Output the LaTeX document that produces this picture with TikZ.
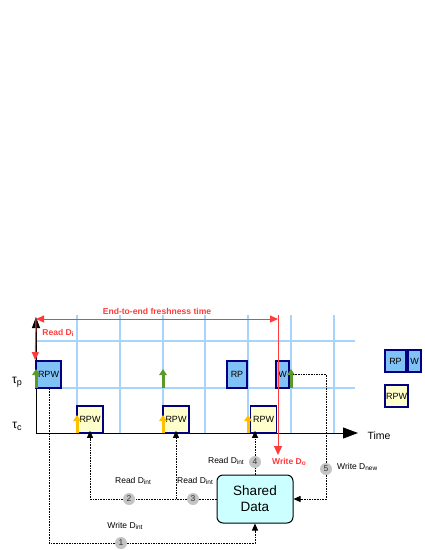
\documentclass[tikz,border=0pt]{standalone}
\usepackage{fontspec}
\setmainfont{Liberation Sans}
\usetikzlibrary{arrows.meta}
\definecolor{gridblue}{HTML}{A6D4FA}
\definecolor{boxblue}{HTML}{80C2F5}
\definecolor{navy}{HTML}{000080}
\definecolor{pale}{HTML}{FFFFCC}
\definecolor{cyanfill}{HTML}{CCFFFF}
\definecolor{redl}{HTML}{FF3B3B}
\definecolor{greenar}{HTML}{5A9A2A}
\definecolor{yellowar}{HTML}{FFC000}
\definecolor{circgray}{HTML}{C4C4C4}
\newcommand\sbs[1]{\raisebox{-0.25ex}{\fontsize{6.5}{6.5}\selectfont #1}}
\newcommand\tsb[1]{\raisebox{-0.3ex}{\fontsize{9}{9}\selectfont #1}}
\tikzset{
  gridline/.style={gridblue, line width=1.2pt},
  taskbox/.style={draw=navy, line width=1.6pt, inner sep=0pt, font=\fontsize{9}{9}\selectfont},
  bluebox/.style={taskbox, fill=boxblue},
  yelbox/.style={taskbox, fill=pale},
  conn/.style={black, line width=0.8pt, dash pattern=on 1.6pt off 1pt},
  connarr/.style={conn, -{Triangle[width=6pt,length=7pt]}},
  numc/.style={circle, fill=circgray, minimum size=12pt, inner sep=0pt, text=black!80, font=\fontsize{8.5}{8.5}\selectfont},
  lbl/.style={font=\fontsize{8.5}{8.5}\selectfont, inner sep=0pt},
  redlbl/.style={text=redl, font=\bfseries\fontsize{8.5}{8.5}\selectfont, inner sep=0pt},
  greenarrow/.style={greenar, line width=3pt, -{Triangle[width=7.5pt,length=6pt]}},
  yelarrow/.style={yellowar, line width=3pt, -{Triangle[width=7.5pt,length=6pt]}},
  redarrow/.style={redl, line width=1pt},
}
\begin{document}
\begin{tikzpicture}[x=1pt,y=-1pt]
\useasboundingbox (0,0) rectangle (425,550);
% grid
\foreach \gx in {77,120,163,205,248,291,334}
  \draw[gridline] (\gx,315) -- (\gx,433);
\draw[gridline] (36,341) -- (355,341);
\draw[gridline] (36,388) -- (355,388);
% axes
\coordinate (origin) at (36,433);
\coordinate (ytop) at (36,317);
\coordinate (xend) at (358,433);
\draw[black, line width=0.9pt, -{Triangle[width=8pt,length=11pt]}] (origin) -- (ytop);
\draw[black, line width=0.9pt, -{Triangle[width=11pt,length=15pt]}] (origin) -- (xend);
\node[font=\fontsize{10.5}{10.5}\selectfont, anchor=west] (time) at (364,436) {Time};
\node[font=\fontsize{12}{12}\selectfont] (taup) at (17,382) {τ\tsb{p}};
\node[font=\fontsize{12}{12}\selectfont] (tauc) at (17,426) {τ\tsb{c}};
% red freshness span
\coordinate (fL) at (36,319);
\coordinate (fR) at (278,319);
\coordinate (rtop) at (278,315);
\coordinate (rbot) at (278,455);
\draw[redarrow, {Triangle[width=7pt,length=8pt]}-{Triangle[width=7pt,length=8pt]}] (fL) -- (fR);
\node[text=redl, font=\bfseries\fontsize{8.6}{8.6}\selectfont] (e2e) at (157,311) {End-to-end freshness time};
% boxes
\node[bluebox, minimum width=25pt, minimum height=27pt] (p1) at (48.5,374.5) {RPW};
\node[bluebox, minimum width=20pt, minimum height=27pt] (rp) at (237,374.5) {RP};
\node[bluebox, minimum width=13pt, minimum height=27pt] (w) at (282.5,374.5) {W};
\node[yelbox, minimum width=26pt, minimum height=27pt] (c1) at (90,419.5) {RPW};
\node[yelbox, minimum width=26pt, minimum height=27pt] (c2) at (176,419.5) {RPW};
\node[yelbox, minimum width=26pt, minimum height=27pt] (c3) at (263.5,419.5) {RPW};
% legend
\node[bluebox, minimum width=21pt, minimum height=22pt] (lrp) at (395.5,361) {RP};
\node[bluebox, minimum width=13pt, minimum height=22pt] (lw) at (414.5,361) {W};
\node[yelbox, minimum width=23pt, minimum height=22pt] (lrpw) at (396.5,396) {RPW};
% red arrows
\draw[redarrow, -{Triangle[width=7pt,length=8pt]}] (fL) -- (p1.north west);
\draw[redarrow, -{Triangle[width=8pt,length=9pt]}] (rtop) -- (rbot);
\node[redlbl] (readdi) at (58,333) {Read D\sbs{i}};
\node[redlbl, anchor=west] (writedo) at (272,462) {Write D\sbs{o}};
% green arrows
\draw[greenarrow] (36,388) -- (36,369);
\draw[greenarrow] (163,388) -- (163,369);
\draw[greenarrow] (291,388) -- (291,369);
% yellow arrows
\draw[yelarrow] (77,433) -- (77,415);
\draw[yelarrow] (163,433) -- (163,415);
\draw[yelarrow] (248,433) -- (248,415);
% shared data
\node[draw=black, line width=1pt, fill=cyanfill, rounded corners=6pt, minimum width=76pt, minimum height=48pt, align=center, font=\fontsize{13.5}{16}\selectfont] (shared) at (255,499) {Shared\\Data};
% circles
\node[numc] (n1) at (121,543) {1};
\node[numc] (n2) at (129,499) {2};
\node[numc] (n3) at (193,499) {3};
\node[numc] (n4) at (255,462) {4};
\node[numc] (n5) at (326,469) {5};
\coordinate (br) at (c2.south |- shared.west);
% connectors
\draw[conn] (p1.south -| 49,0) |- (n1);
\draw[connarr] (n1) -| (shared.south);
\draw[conn] (shared.west) -- (n3);
\draw[conn] (n3) -- (n2);
\draw[connarr, shorten >=-3pt] (n2) -| (c1.south);
\draw[connarr, shorten >=-3pt] (br) -- (c2.south);
\draw[conn] (shared.north) -- (n4);
\draw[connarr, shorten >=-3pt] (n4) -- (n4 |- c3.south);
\draw[conn] (w.east) ++(3,0) -| (n5);
\draw[connarr] (n5) |- (shared.east);
% labels
\node[lbl] (l2) at (133,481) {Read D\sbs{int}};
\node[lbl] (l3) at (195,481) {Read D\sbs{int}};
\node[lbl, anchor=east] (l4) at (244,461) {Read D\sbs{int}};
\node[lbl] (l1) at (125,526) {Write D\sbs{int}};
\node[lbl, anchor=west] (l5) at (337,467) {Write D\sbs{new}};
\end{tikzpicture}
\end{document}
